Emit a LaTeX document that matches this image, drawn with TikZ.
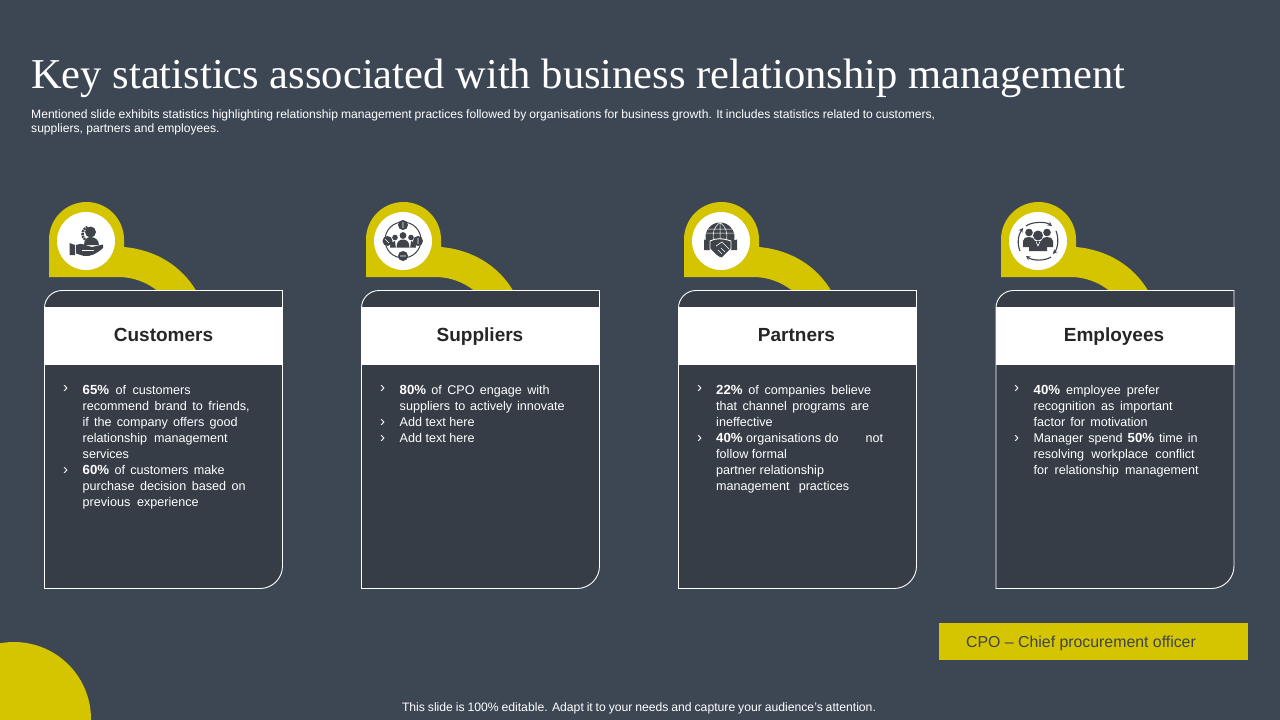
\documentclass[tikz,border=0pt]{standalone}
\usepackage{fontspec}
\setmainfont{Liberation Sans}
\newfontfamily\titlefont{Liberation Serif}
\usetikzlibrary{arrows.meta}
\definecolor{bgc}{HTML}{3D4753}
\definecolor{panelc}{HTML}{363D47}
\definecolor{yel}{HTML}{D5C400}
\definecolor{inkc}{HTML}{3F444B}
\definecolor{headc}{HTML}{262626}
\newcommand{\jl}[2]{\makebox[#1pt][s]{#2}}
\newcommand{\bp}[1]{{\fontsize{13.2}{16}\selectfont\bfseries #1}}
\newcommand{\tabshape}[1]{%
  \begin{scope}[xshift=#1pt]
    \fill[yel] (49,277) -- (49,239.5) arc[start angle=180,end angle=360,radius=37.5]
      -- (124,247) .. controls (157,250) and (182,267) .. (196,290.5)
      -- (157,290.5) .. controls (146,282) and (133,277) .. (118,277) -- cycle;
    \fill[white] (86,241) circle[radius=29];
  \end{scope}}
\newcommand{\panelshape}[1]{%
  \begin{scope}[xshift=#1pt]
    \path[fill=panelc] (44.5,308) arc[start angle=180,end angle=270,radius=17.5]
      -- (282.5,290.5) -- (282.5,566) arc[start angle=0,end angle=90,radius=22.5]
      -- (44.5,588.5) -- cycle;
    \fill[white] (44,307) rectangle (283,365);
    \draw[white,line width=.9pt] (44.5,308) arc[start angle=180,end angle=270,radius=17.5]
      -- (282.5,290.5) -- (282.5,566) arc[start angle=0,end angle=90,radius=22.5]
      -- (44.5,588.5) -- cycle;
  \end{scope}}
\tikzset{
  x=1pt,y=-1pt,
  head/.style={font=\fontsize{19}{20}\selectfont\bfseries,text=headc,inner sep=0pt,anchor=base},
  bodytext/.style={font=\fontsize{12.6}{16}\selectfont,text=white,inner sep=0pt,anchor=north west,align=left},
  bul/.style={font=\fontsize{15}{16}\selectfont,text=white,inner sep=0pt,anchor=center},
  ink/.style={fill=inkc,draw=none},
  wline/.style={draw=white,line width=.7pt},
  inkline/.style={draw=inkc,line width=1pt}
}
\begin{document}
\begin{tikzpicture}
\useasboundingbox (0,0) rectangle (1280,720);
\fill[bgc] (0,0) rectangle (1280,720);
\begin{scope}
  \clip (0,0) rectangle (1280,720);
  \fill[yel] (14,719) circle[radius=77];
\end{scope}

\node[anchor=base west,inner sep=0pt,text=white] (title) at (31,88)
  {\titlefont\fontsize{42.55}{46}\selectfont Key statistics associated with business relationship management};
\node[bodytext,font=\fontsize{12.1}{13.5}\selectfont] (sub) at (31,110)
  {\jl{904}{Mentioned slide exhibits statistics highlighting relationship management practices followed by organisations for business growth. It includes statistics related to customers,}\\
   suppliers, partners and employees.};

\tabshape{0}\tabshape{317}\tabshape{635}\tabshape{952}
\panelshape{0}\panelshape{317}\panelshape{634}\panelshape{951.5}

\node[head] (h1) at (163.5,341.5) {Customers};
\node[head] (h2) at (480,341.5) {Suppliers};
\node[head] (h3) at (796.5,341.5) {Partners};
\node[head] (h4) at (1114,341.5) {Employees};

% icon 1: hand and person
\fill[ink] (90.5,232) circle[radius=5.5];
\fill[ink] (84,245) .. controls (84,240) and (87,237) .. (90.5,237) .. controls (95,237) and (99,240) .. (99,245) -- cycle;
\draw[inkc,line width=2.6pt,dash pattern=on 2pt off .8pt] (90,234) ++(130:7.5) arc[start angle=130,end angle=250,radius=7.5];
\fill[ink] (69.5,243) -- (75,245) -- (75,255) -- (69.5,255) -- cycle;
\fill[ink] (76,245) .. controls (82,242) and (86,246) .. (92,247) -- (103,244.5) -- (103,248)
  .. controls (97,253.5) and (90,257) .. (84,256) -- (76,253.5) -- cycle;
\draw[white,line width=.7pt] (82,250) -- (94,250);

% icon 2: ring with people
\draw[inkline] (403,240) circle[radius=18];
\fill[ink] (403,225) circle[radius=5];
\fill[ink] (403,256) circle[radius=5];
\fill[ink] (387.5,241) circle[radius=5];
\fill[ink] (418,241) circle[radius=5];
\fill[ink] (403,235.5) circle[radius=3.4];
\fill[ink] (395,237.5) circle[radius=2.8];
\fill[ink] (411,237.5) circle[radius=2.8];
\fill[ink] (396.5,247.5) .. controls (396.5,241) and (400,239.5) .. (403,239.5) .. controls (406,239.5) and (409.5,241) .. (409.5,247.5) -- cycle;
\fill[ink] (390,247.5) .. controls (390,243) and (392,241) .. (395,241) -- (395.8,247.5) -- cycle;
\fill[ink] (416,247.5) .. controls (416,243) and (414,241) .. (411,241) -- (410.2,247.5) -- cycle;
\draw[white,line width=.6pt] (403,222) -- (403,228) (400,256) -- (406,256) (385,239) -- (389,243) (418,238) -- (418,244);

% icon 3: globe and handshake
\fill[ink] (720,237) circle[radius=14.5];
\draw[wline,line width=.5pt] (720,222.5) -- (720,242) (706,233) -- (734,233) (708,229) -- (732,229)
  (720,222.5) .. controls (712,228) and (712,238) .. (715,244)
  (720,222.5) .. controls (728,228) and (728,238) .. (725,244);
\fill[ink] (704,239.5) -- (711,241) -- (711,250) -- (704,250) -- cycle;
\fill[ink] (730,241) -- (737,239.5) -- (737,250) -- (730,250) -- cycle;
\draw[white,line width=.9pt,fill=inkc] (710,241) .. controls (716,238) and (722,238) .. (731,241) -- (731,249)
  -- (722,258) .. controls (718,258) and (714,253) .. (710,249) -- cycle;
\draw[white,line width=.6pt] (716,246) -- (722,242) -- (729,249) (718,250) -- (722,254) (721,248) -- (725,252);

% icon 4: people with turning arrows
\fill[ink] (1038,235.5) circle[radius=5];
\fill[ink] (1029,232.5) circle[radius=3.8];
\fill[ink] (1047,232.5) circle[radius=3.8];
\fill[ink] (1023,247) -- (1023,241) .. controls (1023,238) and (1026,237) .. (1029,237) .. controls (1032,237) and (1034,238) .. (1035,241) -- (1035,247) -- cycle;
\fill[ink] (1041,247) -- (1041,241) .. controls (1042,238) and (1044,237) .. (1047,237) .. controls (1050,237) and (1053,238) .. (1053,241) -- (1053,247) -- cycle;
\fill[ink] (1029,251) -- (1029,245) .. controls (1029,242) and (1033,241) .. (1038,241) .. controls (1043,241) and (1047,242) .. (1047,245) -- (1047,251) -- cycle;
\draw[white,line width=.6pt] (1036,241.5) -- (1038,246) -- (1040,241.5);
\begin{scope}[line width=1.1pt,draw=inkc,-{Stealth[length=4.5pt,width=4.5pt]}]
  \draw (1026,226) .. controls (1031,222) and (1045,221) .. (1052,226);
  \draw (1056,231) .. controls (1059,238) and (1058,248) .. (1053,254);
  \draw (1051,257) .. controls (1045,261) and (1033,261) .. (1026,256);
  \draw (1020,251) .. controls (1017,244) and (1018,235) .. (1023,228);
\end{scope}

% panel 1 text
\node[bul] (b11) at (65.5,389.5) {›};
\node[bul] (b12) at (65.5,471.5) {›};
\node[bodytext] (t1) at (82.5,385) {%
  \jl{108}{\bp{65\%} of customers}\\
  \jl{167}{recommend brand to friends,}\\
  \jl{155}{if the company offers good}\\
  \jl{145}{relationship management}\\
  services\\
  \jl{142}{\bp{60\%} of customers make}\\
  \jl{163}{purchase decision based on}\\
  \jl{116}{previous experience}};

% panel 2 text
\node[bul] (b21) at (382.5,389.5) {›};
\node[bul] (b22) at (382.5,423.5) {›};
\node[bul] (b23) at (382.5,439.5) {›};
\node[bodytext] (t2) at (399.5,385) {%
  \jl{150}{\bp{80\%} of CPO engage with}\\
  \jl{165}{suppliers to actively innovate}\\
  Add text here\\
  Add text here};

% panel 3 text
\node[bul] (b31) at (699.5,389.5) {›};
\node[bul] (b32) at (699.5,439.5) {›};
\node[bodytext] (t3) at (716,385) {%
  \jl{155}{\bp{22\%} of companies believe}\\
  \jl{153}{that channel programs are}\\
  ineffective\\
  \jl{167}{\bp{40\%} organisations do\hfill not}\\
  follow formal\\
  partner relationship\\
  \jl{133}{management practices}};

% panel 4 text
\node[bul] (b41) at (1016.5,389.5) {›};
\node[bul] (b42) at (1016.5,439.5) {›};
\node[bodytext] (t4) at (1033.5,385) {%
  \jl{126}{\bp{40\%} employee prefer}\\
  \jl{139}{recognition as important}\\
  \jl{114}{factor for motivation}\\
  \jl{164}{Manager spend \bp{50\%} time in}\\
  \jl{161}{resolving workplace conflict}\\
  \jl{165}{for relationship management}};

% legend and footer
\fill[yel] (939,623) rectangle (1248,660);
\node[anchor=west,inner sep=0pt,text=inkc,font=\fontsize{15.85}{18}\selectfont] (cpo) at (966,643) {CPO – Chief procurement officer};
\node[inner sep=0pt,text=white,font=\fontsize{12.2}{14}\selectfont] (foot) at (639,708) {\jl{474}{This slide is 100\% editable. Adapt it to your needs and capture your audience's attention.}};
\end{tikzpicture}
\end{document}
